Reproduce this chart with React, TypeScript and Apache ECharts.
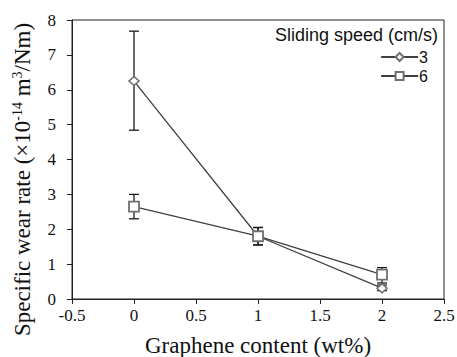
import React, { useEffect, useRef } from "react";
import * as echarts from "echarts";

const graphene = [0, 1, 2];
const speed3 = [6.25, 1.8, 0.31];
const speed3Low = [4.84, 1.55, 0.24];
const speed3High = [7.68, 2.05, 0.4];
const speed6 = [2.65, 1.8, 0.7];
const speed6Low = [2.3, 1.55, 0.46];
const speed6High = [3.0, 2.05, 0.9];
const seriesNames = ["3", "6"];

const lineColor = "#404040";
const markerColor = "#707070";
const serif = "'Liberation Serif', 'Times New Roman', serif";
const sans = "'Liberation Sans', Arial, sans-serif";

function errorSeries(low: number[], high: number[]) {
  return {
    type: "custom",
    silent: true,
    z: 5,
    data: graphene.map((g, i) => [g, low[i], high[i]]),
    renderItem: (params: any, api: any) => {
      const x = api.value(0);
      const lo = api.coord([x, api.value(1)]);
      const hi = api.coord([x, api.value(2)]);
      const half = 5;
      const style = { stroke: "#1a1a1a", lineWidth: 1.3 };
      return {
        type: "group",
        children: [
          { type: "line", shape: { x1: lo[0], y1: lo[1], x2: hi[0], y2: hi[1] }, style },
          { type: "line", shape: { x1: lo[0] - half, y1: lo[1], x2: lo[0] + half, y2: lo[1] }, style },
          { type: "line", shape: { x1: hi[0] - half, y1: hi[1], x2: hi[0] + half, y2: hi[1] }, style },
        ],
      };
    },
  };
}

export default function App() {
  const ref = useRef<HTMLDivElement>(null);
  useEffect(() => {
    document.body.style.margin = "0";
    const chart = echarts.init(ref.current!, null, { renderer: "svg" });
    chart.setOption({
      animation: false,
      backgroundColor: "#fff",
      title: {
        text: "Sliding speed (cm/s)",
        right: 19,
        top: 26,
        padding: 0,
        textStyle: { fontFamily: sans, fontSize: 18, fontWeight: "normal", color: "#111" },
      },
      legend: {
        orient: "vertical",
        right: 29,
        top: 49,
        padding: 0,
        itemWidth: 37,
        itemHeight: 10,
        itemGap: 3,
        textStyle: { fontFamily: sans, fontSize: 16, lineHeight: 16, color: "#111", padding: [0, 0, 0, -4] },
        data: seriesNames,
      },
      grid: {
        left: 72,
        right: 13,
        top: 20,
        bottom: 58,
        outerBoundsMode: "none",
        containLabel: false,
        show: true,
        borderColor: "#222",
        borderWidth: 1,
      },
      xAxis: {
        type: "value",
        min: -0.5,
        max: 2.5,
        interval: 0.5,
        name: "Graphene content (wt%)",
        nameLocation: "middle",
        nameGap: 35,
        nameTextStyle: { fontFamily: serif, fontSize: 23, color: "#111" },
        axisLine: { onZero: false, lineStyle: { color: "#222", width: 1 } },
        axisTick: { show: true, inside: false, length: 5, lineStyle: { color: "#222" } },
        axisLabel: { fontFamily: serif, fontSize: 17, color: "#111", margin: 8 },
        splitLine: { show: false },
      },
      yAxis: {
        type: "value",
        min: 0,
        max: 8,
        interval: 1,
        name: "Specific wear rate (×10{sup|-14} m{sup|3}/Nm)",
        nameLocation: "middle",
        nameGap: 38,
        nameTextStyle: {
          fontFamily: serif,
          fontSize: 23,
          color: "#111",
          padding: [0, 40, 0, 0],
          rich: { sup: { fontFamily: serif, fontSize: 14, color: "#111", verticalAlign: "top", padding: [0, 0, 10, 0] } },
        },
        axisLine: { show: true, onZero: false, lineStyle: { color: "#222", width: 1 } },
        axisTick: { show: true, inside: false, length: 5, lineStyle: { color: "#222" } },
        axisLabel: { fontFamily: serif, fontSize: 17, color: "#111", margin: 16 },
        splitLine: { show: false },
      },
      series: [
        errorSeries(speed3Low, speed3High),
        errorSeries(speed6Low, speed6High),
        {
          name: seriesNames[0],
          type: "line",
          data: graphene.map((g, i) => [g, speed3[i]]),
          symbol: "diamond",
          symbolSize: [10, 9],
          z: 6,
          lineStyle: { color: lineColor, width: 1.3 },
          itemStyle: { color: "#fff", borderColor: markerColor, borderWidth: 1.6 },
        },
        {
          name: seriesNames[1],
          type: "line",
          data: graphene.map((g, i) => [g, speed6[i]]),
          symbol: "rect",
          symbolSize: 10,
          z: 6,
          lineStyle: { color: lineColor, width: 1.3 },
          itemStyle: { color: "#fff", borderColor: markerColor, borderWidth: 1.8 },
        },
      ],
    });
    return () => chart.dispose();
  }, []);
  return <div ref={ref} style={{ width: 457, height: 357 }} />;
}
